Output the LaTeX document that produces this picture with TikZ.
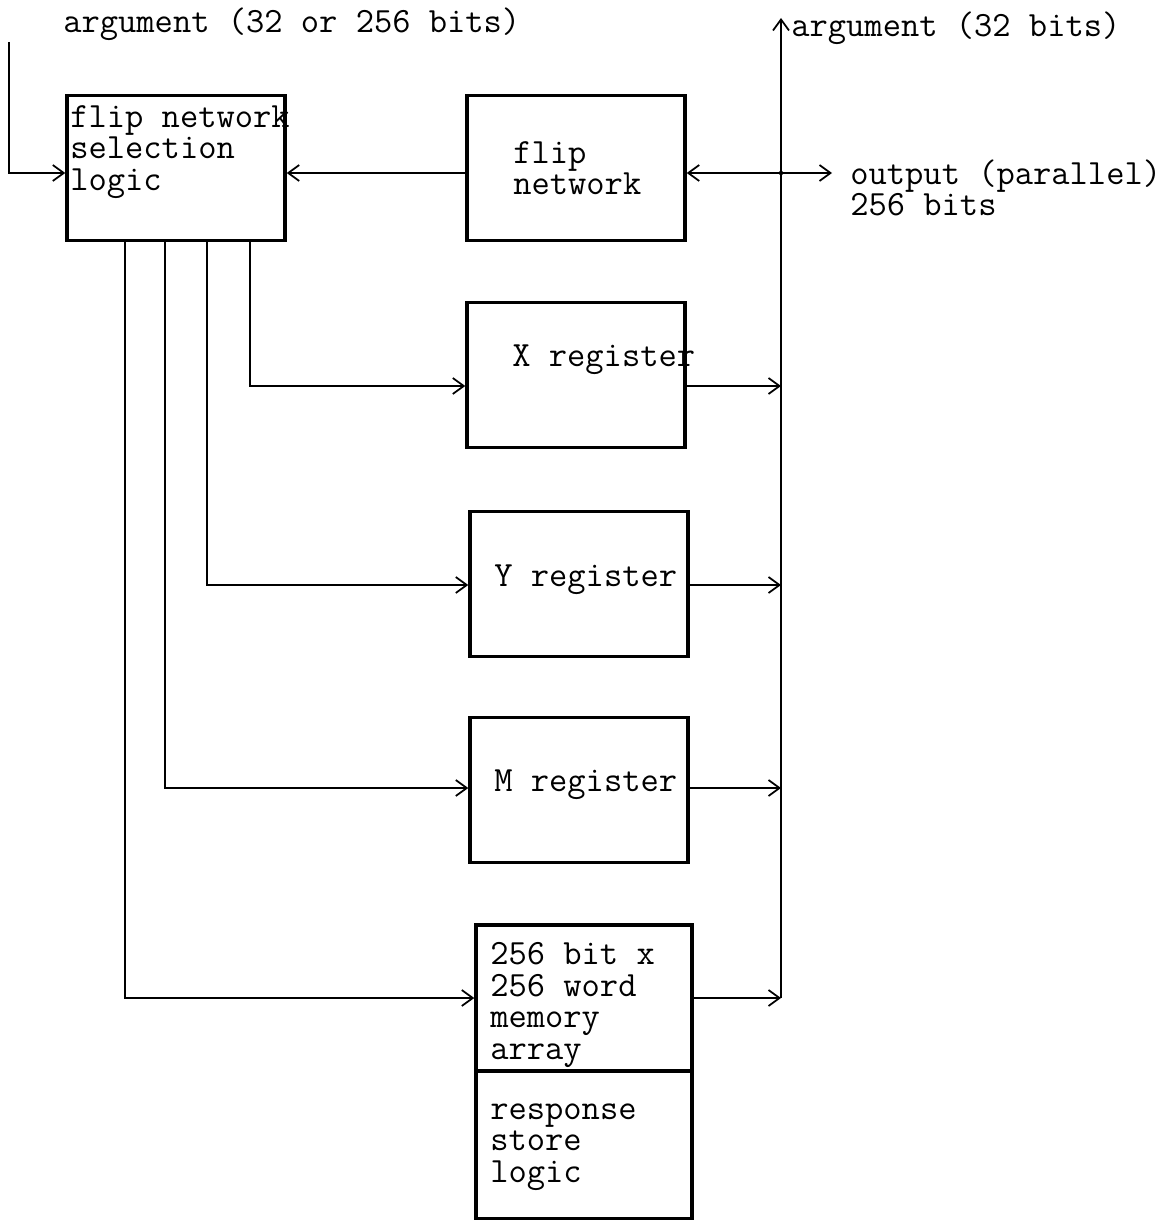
\documentclass[tikz,border=0pt]{standalone}
\usepackage{fontspec}
\usepackage{tikz}
\usetikzlibrary{arrows.meta,positioning,calc}

\tikzset{
    block/.style={draw, line width=2pt, minimum width=4.36cm, minimum height=2.9cm, inner sep=0pt},
    lbl/.style={anchor=west, align=left, inner sep=0pt, font=\ttfamily\fontsize{20.2}{17.9}\selectfont},
    wire/.style={line width=1pt},
    >={Straight Barb[length=2.2mm, width=3.2mm]}
}

\begin{document}
\begin{tikzpicture}[x=0.02cm, y=-0.02cm]
    \useasboundingbox (0,0) rectangle (1173,1226);

    % Blocks
    \node[block] (sel) at (176,168) {};
    \node[block] (flipnet) at (576,168) {};
    \node[block] (xreg) at (576,375) {};
    \node[block] (yreg) at (579,584) {};
    \node[block] (mreg) at (579,790) {};
    \node[block, minimum width=4.32cm, minimum height=2.92cm] (mem) at (584,998) {};
    \node[block, minimum width=4.32cm, minimum height=2.94cm] (resp) at (584,1145) {};

    % Texts
    \node[lbl] (seltxt) at (70,152) {flip network\\selection\\logic};
    \node[lbl] (fliptxt) at (513,168) {flip\\network};
    \node[lbl] (xtxt) at (512,360) {X register};
    \node[lbl] (ytxt) at (494,580) {Y register};
    \node[lbl] (mtxt) at (494,785) {M register};
    \node[lbl] (memtxt) at (490,1005) {256 bit x\\256 word\\memory\\array};
    \node[lbl] (resptxt) at (490,1147) {response\\store\\logic};
    \node[lbl] (argleft) at (63,24) {argument (32 or 256 bits)};
    \node[lbl] (argright) at (791,28) {argument (32 bits)};
    \node[lbl] (outtxt) at (850,188) {output (parallel)\\256 bits};

    % Free ends
    \coordinate (argin) at (9,42);
    \coordinate (bustop) at (781,18);
    \coordinate (busbot) at (781,998);
    \coordinate (outend) at (832,173);

    % Arrows
    \draw[wire, ->] (argin) |- ([yshift=-0.1cm]sel.west);
    \draw[wire, ->] ([yshift=-0.1cm]flipnet.west) -- ([yshift=-0.1cm]sel.east);
    \draw[wire, <->] ([yshift=-0.1cm]flipnet.east) -- (outend);
    \draw[wire, ->] (busbot) -- (bustop);
    \fill (busbot |- outend) circle (2.2);

    \draw[wire, ->] ([xshift=1.48cm]sel.south) |- ([yshift=-0.22cm]xreg.west);
    \draw[wire, ->] ([xshift=0.62cm]sel.south) |- ([yshift=-0.02cm]yreg.west);
    \draw[wire, ->] ([xshift=-0.22cm]sel.south) |- ([yshift=0.04cm]mreg.west);
    \draw[wire, ->] ([xshift=-1.02cm]sel.south) |- (mem.west);

    \draw[wire, ->] ([yshift=-0.22cm]xreg.east) -- ([yshift=-0.22cm]xreg.east -| busbot);
    \draw[wire, ->] ([yshift=-0.02cm]yreg.east) -- ([yshift=-0.02cm]yreg.east -| busbot);
    \draw[wire, ->] ([yshift=0.04cm]mreg.east) -- ([yshift=0.04cm]mreg.east -| busbot);
    \draw[wire, ->] (mem.east) -- (busbot);
\end{tikzpicture}
\end{document}
